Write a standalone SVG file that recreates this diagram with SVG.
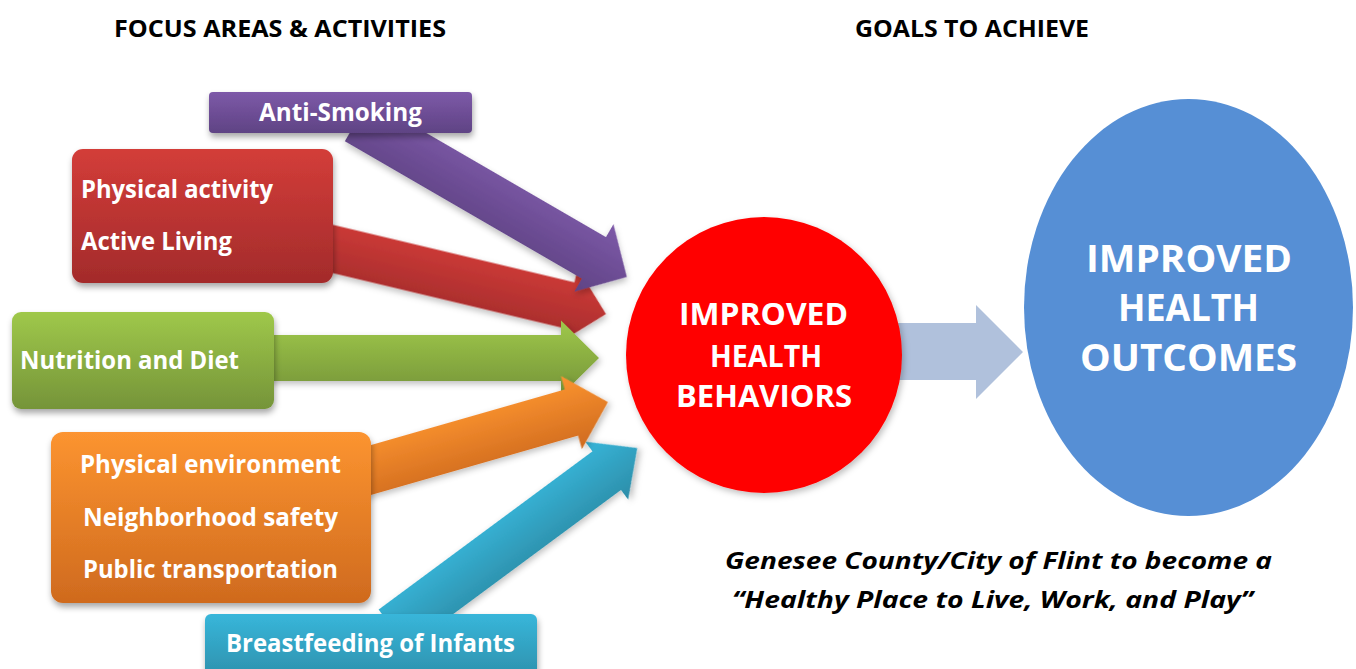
<svg xmlns="http://www.w3.org/2000/svg" width="1356" height="669" viewBox="0 0 1356 669">
<defs>
<linearGradient id="gPurple" x1="0" y1="0" x2="0" y2="1"><stop offset="0" stop-color="#7d59a8"/><stop offset="1" stop-color="#5f4384"/></linearGradient>
<linearGradient id="gRed" x1="0" y1="0" x2="0" y2="1"><stop offset="0" stop-color="#d33d39"/><stop offset="1" stop-color="#a32b2b"/></linearGradient>
<linearGradient id="gGreen" x1="0" y1="0" x2="0" y2="1"><stop offset="0" stop-color="#9fc84a"/><stop offset="1" stop-color="#759439"/></linearGradient>
<linearGradient id="gOrange" x1="0" y1="0" x2="0" y2="1"><stop offset="0" stop-color="#fc9430"/><stop offset="1" stop-color="#cf6a1e"/></linearGradient>
<linearGradient id="gCyan" x1="0" y1="0" x2="0" y2="1"><stop offset="0" stop-color="#38b6da"/><stop offset="1" stop-color="#2c8da8"/></linearGradient>
<filter id="sh" x="-20%" y="-20%" width="140%" height="150%"><feDropShadow dx="1" dy="4" stdDeviation="3" flood-color="#000" flood-opacity="0.35"/></filter>
<filter id="shs" x="-20%" y="-20%" width="140%" height="150%"><feDropShadow dx="2" dy="3" stdDeviation="3" flood-color="#000" flood-opacity="0.25"/></filter>
</defs>
<style>
text{font-family:"Open Sans","Noto Sans","Liberation Sans",sans-serif;font-weight:bold;}
.title{font-size:24px;fill:#000;}
.lbl{font-size:25px;fill:#fff;}
.red{font-size:31px;fill:#fff;}
.blue{font-size:38px;fill:#fff;}
.goal{font-size:23px;font-style:italic;fill:#000;}
</style>
<rect width="1356" height="669" fill="#fff"/>

<text class="title" x="114" y="37" textLength="332" lengthAdjust="spacingAndGlyphs">FOCUS AREAS &amp; ACTIVITIES</text>
<text class="title" x="855" y="37" textLength="234" lengthAdjust="spacingAndGlyphs">GOALS TO ACHIEVE</text>

<g id="connectors">
<path id="arrow-red" filter="url(#shs)" fill="url(#gRed)" transform="translate(333,249) rotate(13.4)" d="M-25,-23.5 L242.6,-23.5 L242.6,-38 L280.6,0 L242.6,38 L242.6,23.5 L-25,23.5 Z"/>
<path id="arrow-purple" filter="url(#shs)" fill="url(#gPurple)" transform="translate(378.5,133) rotate(30.1)" d="M-25,-24 L249,-24 L249,-39 L287,0 L249,39 L249,24 L-25,24 Z"/>
<path id="arrow-green" filter="url(#shs)" fill="url(#gGreen)" transform="translate(274,358)" d="M-25,-23 L287,-23 L287,-37.5 L325,0 L287,37.5 L287,23 L-25,23 Z"/>
<path id="arrow-cyan" filter="url(#shs)" fill="url(#gCyan)" transform="translate(413,614) rotate(-36.5)" d="M-25,-24 L241,-24 L241,-36 L279,0 L241,36 L241,24 L-25,24 Z"/>
<path id="arrow-orange" filter="url(#shs)" fill="url(#gOrange)" transform="translate(371,470) rotate(-16)" d="M-25,-24 L208.5,-24 L208.5,-38 L246.5,0 L208.5,38 L208.5,24 L-25,24 Z"/>
<path id="arrow-behaviors-outcomes" fill="#b0c1dc" d="M870,323 L976,323 L976,305 L1023,352 L976,399 L976,380 L870,380 Z"/>
</g>

<g id="node-anti-smoking">
<rect x="209" y="92" width="263" height="41" rx="4" fill="url(#gPurple)" filter="url(#sh)"/>
<text class="lbl" x="259" y="121" textLength="163" lengthAdjust="spacingAndGlyphs">Anti-Smoking</text>
</g>
<g id="node-physical-activity">
<rect x="72" y="149" width="261" height="134" rx="11" fill="url(#gRed)" filter="url(#sh)"/>
<text class="lbl" x="81" y="198" textLength="192" lengthAdjust="spacingAndGlyphs">Physical activity</text>
<text class="lbl" x="81" y="250" textLength="151" lengthAdjust="spacingAndGlyphs">Active Living</text>
</g>
<g id="node-nutrition">
<rect x="12" y="312" width="262" height="97" rx="9" fill="url(#gGreen)" filter="url(#sh)"/>
<text class="lbl" x="20" y="369" textLength="219" lengthAdjust="spacingAndGlyphs">Nutrition and Diet</text>
</g>
<g id="node-environment">
<rect x="51" y="432" width="320" height="171" rx="12" fill="url(#gOrange)" filter="url(#sh)"/>
<text class="lbl" x="80" y="473" textLength="261" lengthAdjust="spacingAndGlyphs">Physical environment</text>
<text class="lbl" x="83" y="526" textLength="255" lengthAdjust="spacingAndGlyphs">Neighborhood safety</text>
<text class="lbl" x="83" y="578" textLength="255" lengthAdjust="spacingAndGlyphs">Public transportation</text>
</g>
<g id="node-breastfeeding">
<rect x="205" y="614" width="332" height="70" rx="6" fill="url(#gCyan)" filter="url(#sh)"/>
<text class="lbl" x="226" y="652" textLength="289" lengthAdjust="spacingAndGlyphs">Breastfeeding of Infants</text>
</g>

<g id="node-behaviors">
<circle cx="764" cy="355" r="138" fill="#ff0000" filter="url(#shs)"/>
<text class="red" x="679" y="325" textLength="169" lengthAdjust="spacingAndGlyphs">IMPROVED</text>
<text class="red" x="710" y="367" textLength="112" lengthAdjust="spacingAndGlyphs">HEALTH</text>
<text class="red" x="676" y="407" textLength="176" lengthAdjust="spacingAndGlyphs">BEHAVIORS</text>
</g>
<g id="node-outcomes">
<ellipse cx="1188.5" cy="307.5" rx="164.5" ry="208.5" fill="#568fd5"/>
<text class="blue" x="1086" y="272" textLength="206" lengthAdjust="spacingAndGlyphs">IMPROVED</text>
<text class="blue" x="1118" y="321" textLength="141" lengthAdjust="spacingAndGlyphs">HEALTH</text>
<text class="blue" x="1080" y="371" textLength="217" lengthAdjust="spacingAndGlyphs">OUTCOMES</text>
</g>

<g id="goal-statement">
<text class="goal" x="725" y="569" textLength="547" lengthAdjust="spacingAndGlyphs">Genesee County/City of Flint to become a</text>
<text class="goal" x="732" y="608" textLength="521" lengthAdjust="spacingAndGlyphs">“Healthy Place to Live, Work, and Play”</text>
</g>
</svg>
